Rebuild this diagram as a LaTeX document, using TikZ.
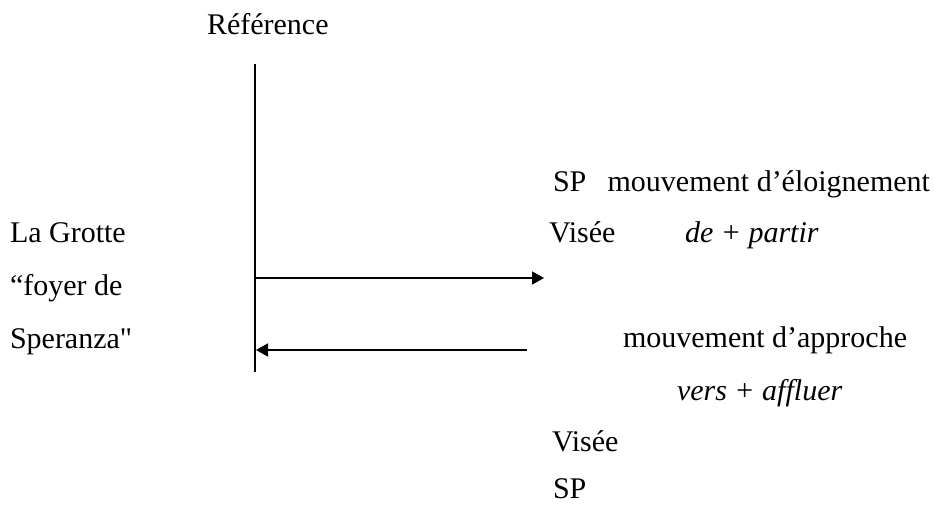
\documentclass[tikz,border=0pt]{standalone}
\usepackage{fontspec}
\setmainfont{Liberation Serif}[Ligatures=TeXOff]
\usetikzlibrary{arrows.meta}
\tikzset{
  lbl/.style={anchor=base west, inner sep=0pt, outer sep=0pt, font=\fontsize{30}{36}\selectfont},
  lble/.style={lbl, anchor=base east},
  axis/.style={line width=1.6pt, black},
  arr/.style={line width=1.8pt, black, -{Triangle[length=12pt,width=13pt]}}
}
\begin{document}
\begin{tikzpicture}[x=1pt,y=-1pt]
\useasboundingbox (0,0) rectangle (934,505);
% texts
\node[lbl] (ref) at (207,35) {Référence};
\node[lbl] (g1) at (10,243) {La Grotte};
\node[lbl] (g2) at (10,295) {“foyer de};
\node[lbl] (g3) at (10,348) {Speranza"};
\node[lbl] (sp1) at (553,192) {SP};
\node[lble] (mv1) at (930,192) {mouvement d’éloignement};
\node[lbl] (vi1) at (549,243) {Visée};
\node[lbl] (dp) at (685,243) {\itshape de + partir};
\node[lbl] (mv2) at (623,347) {mouvement d’approche};
\node[lbl] (va) at (677,400) {\itshape vers + affluer};
\node[lbl] (vi2) at (552,451) {Visée};
\node[lbl] (sp2) at (553,498) {SP};
% reference line
\coordinate (top) at (255,64);
\coordinate (bot) at (255,372);
\draw[axis] (top) -- (bot);
% arrows
\coordinate (a1s) at (255,278);
\coordinate (a1e) at (544,278);
\coordinate (a2s) at (527,350);
\coordinate (a2e) at (256,350);
\draw[arr] (a1s) -- (a1e);
\draw[arr] (a2s) -- (a2e);
\end{tikzpicture}
\end{document}
